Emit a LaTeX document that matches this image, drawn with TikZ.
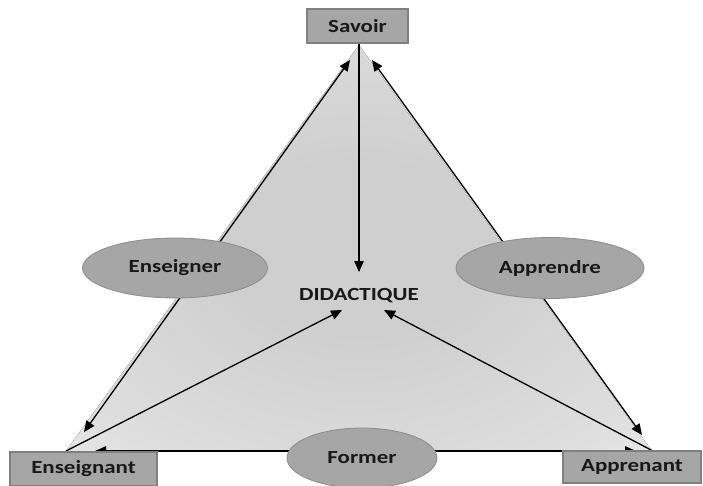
\documentclass[tikz,border=0pt]{standalone}
\usepackage{fontspec}
\setmainfont{Carlito}[FakeStretch=1.24]
\usetikzlibrary{shapes.geometric,arrows.meta}

\definecolor{tricore}{gray}{0.81}
\definecolor{trimid}{gray}{0.87}
\definecolor{triedge}{gray}{1.0}
\definecolor{boxfill}{gray}{0.65}
\definecolor{boxline}{gray}{0.50}
\definecolor{ellline}{gray}{0.55}

% soft grey fill of the didactic triangle, darker in the middle
\pgfdeclareradialshading{trishade}{\pgfpoint{0bp}{0bp}}{%
  color(0bp)=(tricore); color(10bp)=(tricore); color(30bp)=(trimid); color(50bp)=(triedge)}

\begin{document}
\begin{tikzpicture}[x=1pt,y=-1pt,
  lbl/.style={font=\bfseries\fontsize{18.5}{20}\selectfont, text=black!90},
  pole/.style={lbl, draw=boxline, line width=1.8pt, fill=boxfill, inner sep=0pt},
  act/.style={lbl, ellipse, draw=ellline, line width=0.8pt, fill=boxfill, inner sep=0pt},
  tip/.style={Triangle[length=11pt,width=9.5pt]},
  link/.style={line width=1.3pt, -{Triangle[length=11pt,width=9.5pt]}},
  twoway/.style={line width=1.3pt, {Triangle[length=11pt,width=9.5pt]}-{Triangle[length=11pt,width=9.5pt]}}]
\useasboundingbox (0,0) rectangle (703,485);

% triangle background
\fill[shading=trishade] (359,45) -- (66,451) -- (652,451) -- cycle;

% anchor points of the connectors
\coordinate (svL) at (350,60);
\coordinate (svR) at (372,60);
\coordinate (enT) at (84,432);
\coordinate (apT) at (642,435);
\coordinate (enC) at (66,451);
\coordinate (apC) at (653,451);
\coordinate (enB) at (95,451);
\coordinate (apB) at (636,451);
\coordinate (svB) at (359,43);
\coordinate (diT) at (359,272);
\coordinate (diL) at (342,310);
\coordinate (diR) at (384,310);

% connectors
\draw[twoway] (svL) -- (enT);
\draw[twoway] (svR) -- (apT);
\draw[link] (svB) -- (diT);
\draw[link] (enC) -- (diL);
\draw[link] (apC) -- (diR);
\draw[twoway] (enB) -- (apB);

% the three poles
\node[pole, minimum width=101pt, minimum height=34pt] (sav) at (357.5,26) {Savoir};
\node[pole, minimum width=147pt, minimum height=34pt] (ens) at (83.5,469) {Enseignant};
\node[pole, minimum width=138pt, minimum height=32pt] (app) at (632,467) {Apprenant};

% centre label
\node[lbl] (did) at (359,296) {DIDACTIQUE};

% the three processes
\node[act, minimum width=185pt, minimum height=60pt] (ensr) at (175,268) {Enseigner};
\node[act, minimum width=188pt, minimum height=61pt] (appr) at (550,268) {Apprendre};
\node[act, minimum width=150pt, minimum height=60pt] (form) at (362,458) {Former};
\end{tikzpicture}
\end{document}
